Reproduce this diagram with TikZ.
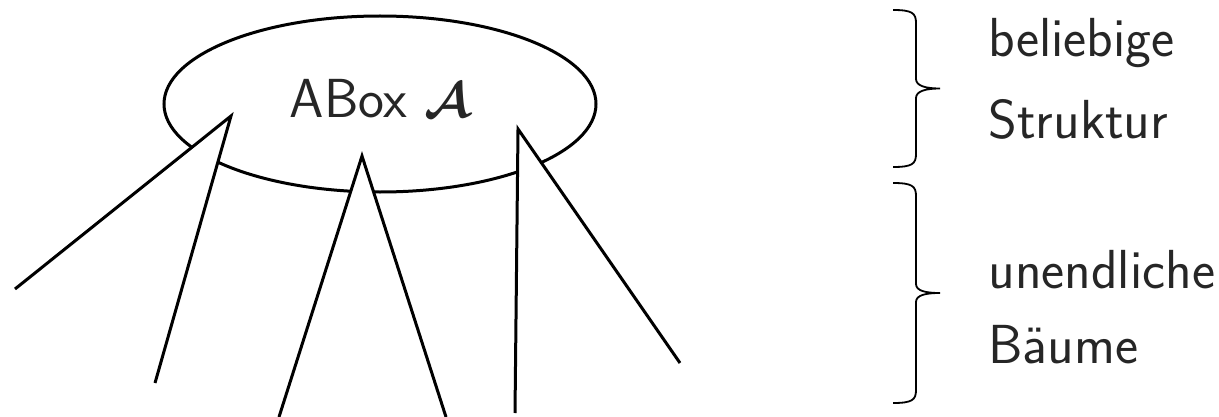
\documentclass[tikz,border=0pt]{standalone}
\usepackage{amsmath,amsbsy}
\usetikzlibrary{shapes.geometric}
\begin{document}
\begin{tikzpicture}[x=0.5pt,y=-0.5pt,
  lbl/.style={font=\sffamily\fontsize{27.5}{33}\selectfont, inner sep=0pt, text=black!85},
  shapeline/.style={line width=1.5pt, line join=miter},
  bracestroke/.style={line width=0.9pt}]
\useasboundingbox (0,0) rectangle (1219,417);
% ABox ellipse
\node[draw, ellipse, shapeline, minimum width=216pt, minimum height=88pt, inner sep=0pt] (abox) at (380,104) {};
\node[lbl, anchor=base] (atext) at (380,118) {ABox $\boldsymbol{\mathcal{A}}$};
% trees (open triangles, filled white)
\coordinate (t1a) at (231,116);
\coordinate (t1l) at (15,289);
\coordinate (t1r) at (155,383);
\coordinate (t2a) at (362,156);
\coordinate (t2l) at (279,417);
\coordinate (t2r) at (446,417);
\coordinate (t3a) at (518,129);
\coordinate (t3l) at (515,413);
\coordinate (t3r) at (680,363);
\fill[white] (t1l) -- (t1a) -- (t1r) -- cycle;
\fill[white] (t2l) -- (t2a) -- (t2r) -- cycle;
\fill[white] (t3l) -- (t3a) -- (t3r) -- cycle;
\draw[shapeline] (t1l) -- (t1a) -- (t1r);
\draw[shapeline] (t2l) -- (t2a) -- (t2r);
\draw[shapeline] (t3l) -- (t3a) -- (t3r);
% braces
\coordinate (b1top) at (893,10);
\coordinate (b1tip) at (940,88.5);
\coordinate (b1bot) at (893,167);
\coordinate (b2top) at (893,183);
\coordinate (b2tip) at (940,293);
\coordinate (b2bot) at (893,403);
\draw[bracestroke] (b1top) .. controls (912,10) and (916,13) .. (916,23) -- (916,79)
  .. controls (916,86) and (926,88.5) .. (b1tip)
  .. controls (926,88.5) and (916,91) .. (916,98) -- (916,154)
  .. controls (916,164) and (912,167) .. (b1bot);
\draw[bracestroke] (b2top) .. controls (912,183) and (916,186) .. (916,196) -- (916,284)
  .. controls (916,291) and (926,293) .. (b2tip)
  .. controls (926,293) and (916,295) .. (916,302) -- (916,390)
  .. controls (916,400) and (912,403) .. (b2bot);
% labels
\node[lbl, anchor=base west] (l1) at (988,57) {beliebige};
\node[lbl, anchor=base west] (l2) at (988,139) {Struktur};
\node[lbl, anchor=base west] (l3) at (988,288) {unendliche};
\node[lbl, anchor=base west] (l4) at (988,363) {Bäume};
\end{tikzpicture}
\end{document}
